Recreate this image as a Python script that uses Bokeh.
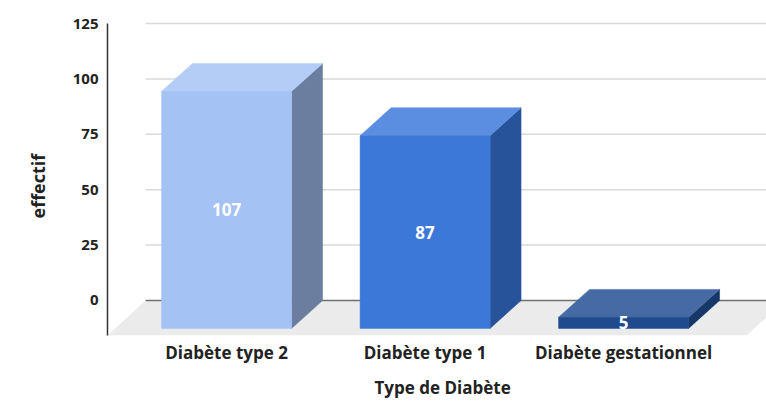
from bokeh.plotting import figure
from bokeh.models import Range1d, FixedTicker, ColumnDataSource, LabelSet, Title
from bokeh.core.properties import value
from bokeh.embed import file_html
from bokeh.resources import INLINE

# Data
categories = ["Diabète type 2", "Diabète type 1", "Diabète gestationnel"]
effectifs = [107, 87, 5]
y_ticks = [0, 25, 50, 75, 100, 125]

# Face colours of each 3D bar (front, top, side)
front_colors = ["#a4c2f4", "#3c78d8", "#1f4a8e"]
top_colors = ["#b4cdf6", "#5b8ee0", "#466aa3"]
side_colors = ["#6b7ea0", "#27539b", "#163768"]

FONT = "Open Sans"
TEXT_COLOR = "#222222"

# 3D projection parameters (category units / value units)
BAR_W = 0.655
DX = 0.156
DY = 12.6
BASE = -DY          # front bottom of each bar; back bottom sits at 0

Y_MIN, Y_MAX = -15.8, 130.9
X_MIN, X_MAX = -0.6, 2.72

p = figure(
    width=766, height=405,
    x_range=Range1d(X_MIN, X_MAX), y_range=Range1d(Y_MIN, Y_MAX),
    output_backend="svg", toolbar_location=None,
    min_border_left=107, min_border_right=0,
    min_border_top=10, min_border_bottom=70,
)
p.outline_line_color = None
p.background_fill_color = "white"
p.border_fill_color = "white"
p.xgrid.visible = False
p.ygrid.visible = False

# Floor slab
floor_dx = 0.192
p.patch(
    x=[X_MIN, 2.62, 2.62 + floor_dx, X_MIN + floor_dx],
    y=[Y_MIN, Y_MIN, 0, 0],
    fill_color="#ebebeb", line_color=None,
)

# Back-plane gridlines
grid_x0 = X_MIN + floor_dx
upper = [t for t in y_ticks if t > 0]
p.segment(x0=[grid_x0] * len(upper), x1=[X_MAX] * len(upper),
          y0=upper, y1=upper, line_color="#d9d9d9", line_width=1.5)
p.segment(x0=[grid_x0], x1=[X_MAX], y0=[0], y1=[0],
          line_color="#707070", line_width=1.5)

# 3D bars: front face, top face, side face
fx, fy, tx, ty, sx, sy = [], [], [], [], [], []
for i, v in enumerate(effectifs):
    l, r = i - BAR_W / 2, i + BAR_W / 2
    top = BASE + v
    fx.append([l, r, r, l])
    fy.append([BASE, BASE, top, top])
    tx.append([l, r, r + DX, l + DX])
    ty.append([top, top, top + DY, top + DY])
    sx.append([r, r + DX, r + DX, r])
    sy.append([BASE, BASE + DY, top + DY, top])

p.patches(xs=sx, ys=sy, fill_color=side_colors, line_color=side_colors, line_width=0.5)
p.patches(xs=tx, ys=ty, fill_color=top_colors, line_color=top_colors, line_width=0.5)
p.patches(xs=fx, ys=fy, fill_color=front_colors, line_color=front_colors, line_width=0.5)

# Value labels in the middle of the front faces
lab_src = ColumnDataSource(dict(
    x=list(range(len(effectifs))),
    y=[BASE + v / 2 for v in effectifs],
    t=[str(v) for v in effectifs],
))
p.add_layout(LabelSet(
    x="x", y="y", text="t", source=lab_src,
    text_align="center", text_baseline="middle",
    text_color="white", text_font=value(FONT), text_font_style="bold",
    text_font_size="17px",
))

# Y axis
ya = p.yaxis[0]
ya.ticker = FixedTicker(ticks=y_ticks)
ya.bounds = (Y_MIN, 125)
ya.axis_line_color = "#333333"
ya.axis_line_width = 1.5
ya.major_tick_line_color = None
ya.major_tick_out = 0
ya.minor_tick_line_color = None
ya.major_label_standoff = 9
ya.major_label_text_font = FONT
ya.major_label_text_font_style = "bold"
ya.major_label_text_font_size = "15px"
ya.major_label_text_color = TEXT_COLOR

# X axis (category names)
xa = p.xaxis[0]
xa.ticker = FixedTicker(ticks=list(range(len(categories))))
xa.major_label_overrides = {i: c for i, c in enumerate(categories)}
xa.axis_line_color = None
xa.major_tick_line_color = None
xa.major_tick_out = 0
xa.minor_tick_line_color = None
xa.major_label_standoff = 5
xa.major_label_text_font = FONT
xa.major_label_text_font_style = "bold"
xa.major_label_text_font_size = "17px"
xa.major_label_text_color = TEXT_COLOR

# Axis titles as side titles
p.add_layout(Title(
    text="effectif", align="left", offset=117, standoff=40,
    text_font=FONT, text_font_style="bold", text_font_size="18px",
    text_color=TEXT_COLOR,
), "left")
p.add_layout(Title(
    text="Type de Diabète", align="left", offset=267, standoff=14,
    text_font=FONT, text_font_style="bold", text_font_size="17px",
    text_color=TEXT_COLOR,
), "below")

open("out.html", "w").write(file_html(p, INLINE))
